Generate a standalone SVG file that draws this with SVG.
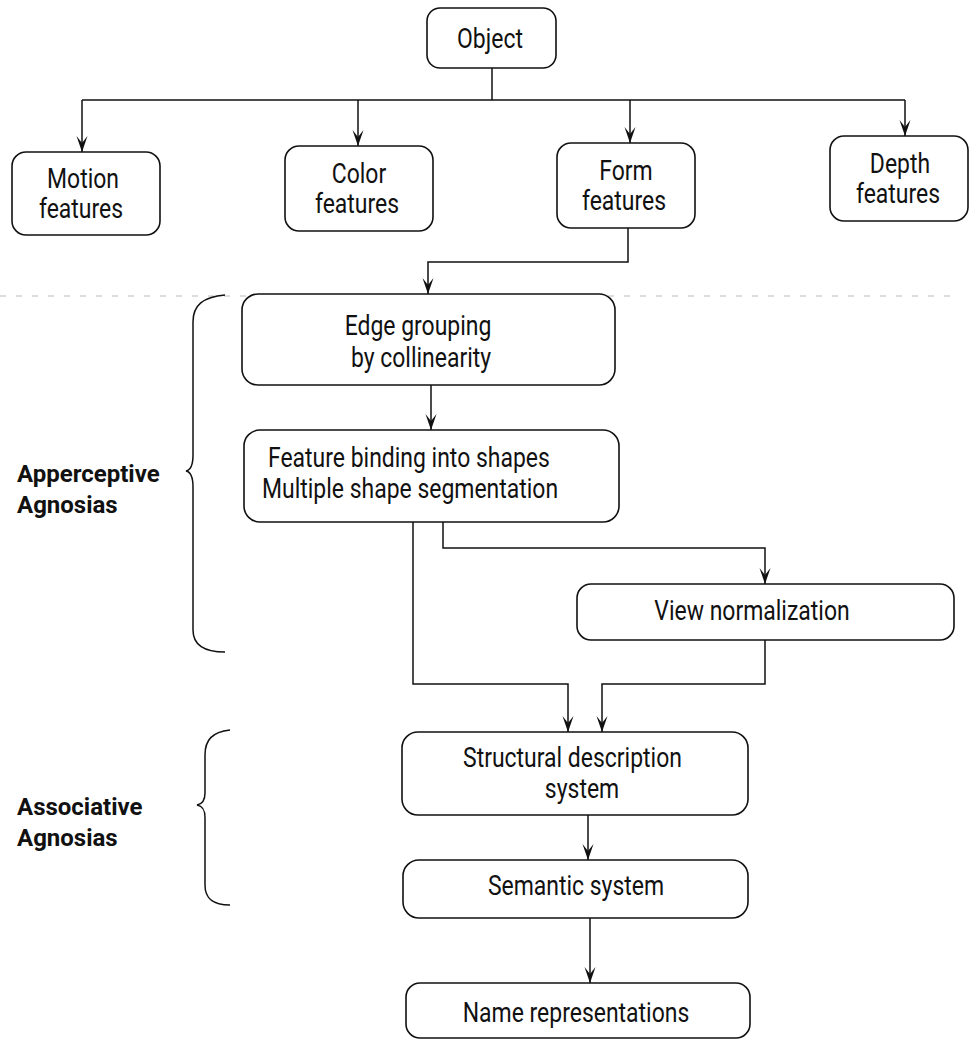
<svg xmlns="http://www.w3.org/2000/svg" width="970" height="1040" viewBox="0 0 970 1040">
<style>
.box{fill:#fff;stroke:#111;stroke-width:1.6}
.t{font-family:"Roboto","Liberation Sans",sans-serif;font-size:28px;fill:#111;text-anchor:middle}
.s{text-anchor:start}
.lbl{font-family:"Roboto","Liberation Sans",sans-serif;font-size:24px;font-weight:bold;fill:#111}
.c{fill:none;stroke:#111;stroke-width:1.5}
.ca{fill:none;stroke:#111;stroke-width:1.5;marker-end:url(#ah)}
.br{fill:none;stroke:#111;stroke-width:1.5}
</style>
<defs>
<marker id="ah" markerUnits="userSpaceOnUse" viewBox="0 0 16 12" refX="16" refY="6" markerWidth="16" markerHeight="12" orient="auto">
<path d="M0,0.5 L16,6 L0,11.5 L7,6 z" fill="#111"/>
</marker>
</defs>
<rect width="970" height="1040" fill="#fff"/>
<line x1="0" y1="296" x2="950" y2="296" stroke="#bbb" stroke-width="1" stroke-dasharray="6 10"/>
<g id="connectors">
<path class="c" d="M492,68 L492,100"/>
<path class="c" d="M82,100 L905,100"/>
<path class="ca" d="M82,100 L82,152"/>
<path class="ca" d="M358,100 L358,146"/>
<path class="ca" d="M630,100 L630,143"/>
<path class="ca" d="M905,100 L905,136"/>
<path class="ca" d="M628,228 L628,262 L428,262 L428,294"/>
<path class="ca" d="M431,385 L431,430"/>
<path class="ca" d="M443,522 L443,548 L765,548 L765,584"/>
<path class="ca" d="M413,522 L413,684 L568,684 L568,732"/>
<path class="ca" d="M765,640 L765,684 L602,684 L602,732"/>
<path class="ca" d="M588,815 L588,860"/>
<path class="ca" d="M590,918 L590,983"/>
</g>
<g id="object"><rect class="box" x="427" y="8" width="129" height="60" rx="13"/><text class="t" transform="translate(490,48) scale(0.82,1)">Object</text></g>
<g id="motion"><rect class="box" x="12" y="152" width="148" height="83" rx="14"/><text class="t" transform="translate(83,188) scale(0.82,1)">Motion</text><text class="t" transform="translate(81,218) scale(0.82,1)">features</text></g>
<g id="color"><rect class="box" x="285" y="146" width="148" height="85" rx="14"/><text class="t" transform="translate(359,183) scale(0.82,1)">Color</text><text class="t" transform="translate(357,213) scale(0.82,1)">features</text></g>
<g id="form"><rect class="box" x="557" y="143" width="138" height="85" rx="14"/><text class="t" transform="translate(626,180) scale(0.82,1)">Form</text><text class="t" transform="translate(624,210) scale(0.82,1)">features</text></g>
<g id="depth"><rect class="box" x="830" y="136" width="138" height="85" rx="14"/><text class="t" transform="translate(900,173) scale(0.82,1)">Depth</text><text class="t" transform="translate(898,203) scale(0.82,1)">features</text></g>
<g id="edge"><rect class="box" x="242" y="294" width="373" height="91" rx="16"/><text class="t" transform="translate(418,335) scale(0.82,1)">Edge grouping</text><text class="t" transform="translate(421,367) scale(0.82,1)">by collinearity</text></g>
<g id="binding"><rect class="box" x="244" y="430" width="375" height="92" rx="16"/><text class="t s" transform="translate(268,467) scale(0.82,1)">Feature binding into shapes</text><text class="t s" transform="translate(262,498) scale(0.82,1)">Multiple shape segmentation</text></g>
<g id="view"><rect class="box" x="577" y="584" width="377" height="56" rx="14"/><text class="t" transform="translate(752,620) scale(0.82,1)">View normalization</text></g>
<g id="structural"><rect class="box" x="402" y="732" width="346" height="83" rx="16"/><text class="t s" transform="translate(463,767) scale(0.82,1)">Structural description</text><text class="t" transform="translate(582,798) scale(0.82,1)">system</text></g>
<g id="semantic"><rect class="box" x="403" y="860" width="345" height="58" rx="16"/><text class="t" transform="translate(576,895) scale(0.82,1)">Semantic system</text></g>
<g id="name"><rect class="box" x="406" y="983" width="344" height="55" rx="14"/><text class="t" transform="translate(576,1022) scale(0.82,1)">Name representations</text></g>
<g id="apperceptive">
<path class="br" d="M225,295 C203,297 193,305 193,322 L193,455 C193,465 191,470 186,471 C191,472 193,477 193,487 L193,630 C193,645 205,652 225,652"/>
<text class="lbl" x="17" y="482">Apperceptive</text><text class="lbl" x="17" y="513">Agnosias</text>
</g>
<g id="associative">
<path class="br" d="M230,730 C212,732 205,740 205,755 L205,793 C205,800 203,804 197,805 C203,806 205,810 205,818 L205,885 C205,898 212,905 230,905"/>
<text class="lbl" x="17" y="815">Associative</text><text class="lbl" x="17" y="846">Agnosias</text>
</g>
</svg>
